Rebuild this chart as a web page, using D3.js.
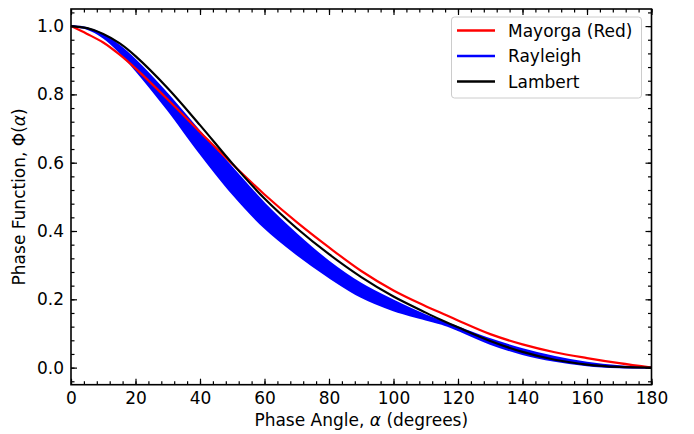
<!DOCTYPE html>
<html>
<head>
<meta charset="utf-8">
<script src="https://cdn.jsdelivr.net/npm/d3@7"></script>
<style>
  body { margin: 0; background: #fff; }
  text { font-family: "DejaVu Sans", sans-serif; }
</style>
</head>
<body>
<div id="chart"></div>
<script>
var angles = [0, 5, 10, 15, 20, 30, 40, 50, 60, 70, 80, 90, 100, 110, 115, 120, 130, 140, 150, 160, 170, 180];

// Mayorga (Red) curve
var mayorga = [1.0, 0.977, 0.952, 0.917, 0.876, 0.785, 0.69, 0.596, 0.507, 0.426, 0.352, 0.283, 0.226, 0.18, 0.159, 0.138, 0.098, 0.068, 0.045, 0.028, 0.013, 0.0];

// Lambert curve
var lambert = [1.0, 0.994, 0.977, 0.95, 0.912, 0.818, 0.71, 0.598, 0.495, 0.408, 0.332, 0.265, 0.208, 0.161, 0.139, 0.118, 0.078, 0.046, 0.023, 0.009, 0.002, 0.0];

// Rayleigh band, upper and lower envelope
var rayleighHigh = [1.0, 0.994, 0.975, 0.942, 0.9, 0.8, 0.69, 0.585, 0.48, 0.39, 0.31, 0.245, 0.196, 0.153, 0.135, 0.118, 0.083, 0.054, 0.031, 0.014, 0.004, 0.0];
var rayleighLow = [1.0, 0.992, 0.967, 0.925, 0.872, 0.755, 0.628, 0.51, 0.41, 0.332, 0.265, 0.207, 0.168, 0.141, 0.128, 0.11, 0.07, 0.04, 0.02, 0.007, 0.001, 0.0];

var legendNames = ["Mayorga (Red)", "Rayleigh", "Lambert"];
var legendColors = ["#ff0000", "#0000ff", "#000000"];

var xTicks = [0, 20, 40, 60, 80, 100, 120, 140, 160, 180];
var yTicks = [0.0, 0.2, 0.4, 0.6, 0.8, 1.0];

var svgWidth = 694;
var svgHeight = 434;

var margin = { top: 9, right: 42.5, bottom: 49.3, left: 71 };
var width = svgWidth - margin.left - margin.right;
var height = svgHeight - margin.top - margin.bottom;

var svg = d3.select("#chart")
  .append("svg")
  .attr("width", svgWidth)
  .attr("height", svgHeight);

var chartGroup = svg.append("g")
  .attr("transform", `translate(${margin.left}, ${margin.top})`);

var xScale = d3.scaleLinear().domain([0, 180]).range([0, width]);
var yScale = d3.scaleLinear().domain([-0.05, 1.05]).range([height, 0]);

var xMinor = d3.range(0, 181, 4);
var yMinor = d3.range(-0.04, 1.05, 0.04);

// Rayleigh band
var band = d3.area()
  .x((d, i) => xScale(angles[i]))
  .y0((d, i) => yScale(rayleighLow[i]))
  .y1((d, i) => yScale(rayleighHigh[i]))
  .curve(d3.curveCatmullRom);

chartGroup.append("path")
  .datum(angles)
  .attr("d", band)
  .attr("fill", "#0000ff")
  .attr("stroke", "#0000ff")
  .attr("stroke-width", 2);

function lineFor(values) {
  return d3.line()
    .x((d, i) => xScale(angles[i]))
    .y((d, i) => yScale(values[i]))
    .curve(d3.curveCatmullRom);
}

chartGroup.append("path")
  .datum(mayorga)
  .attr("d", lineFor(mayorga))
  .attr("fill", "none")
  .attr("stroke", "#ff0000")
  .attr("stroke-width", 2.2);

chartGroup.append("path")
  .datum(lambert)
  .attr("d", lineFor(lambert))
  .attr("fill", "none")
  .attr("stroke", "#000000")
  .attr("stroke-width", 2.2);

// axes: major + minor ticks, all pointing inward
function styleAxis(g) {
  g.select(".domain").remove();
  g.selectAll("line").attr("stroke", "#000").attr("stroke-width", 1.2);
  g.selectAll("text").attr("fill", "#000").style("font-size", "17px").style("font-family", "DejaVu Sans");
}

chartGroup.append("g")
  .attr("transform", `translate(0, ${height})`)
  .call(d3.axisBottom(xScale).tickValues(xTicks).tickSize(-6).tickPadding(7).tickFormat(d3.format("d")))
  .call(styleAxis);
chartGroup.append("g")
  .attr("transform", `translate(0, ${height})`)
  .call(d3.axisBottom(xScale).tickValues(xMinor).tickSize(-3.5).tickFormat(""))
  .call(styleAxis);
chartGroup.append("g")
  .call(d3.axisTop(xScale).tickValues(xTicks).tickSize(-6).tickFormat(""))
  .call(styleAxis);
chartGroup.append("g")
  .call(d3.axisTop(xScale).tickValues(xMinor).tickSize(-3.5).tickFormat(""))
  .call(styleAxis);

chartGroup.append("g")
  .call(d3.axisLeft(yScale).tickValues(yTicks).tickSize(-6).tickPadding(7).tickFormat(d3.format(".1f")))
  .call(styleAxis);
chartGroup.append("g")
  .call(d3.axisLeft(yScale).tickValues(yMinor).tickSize(-3.5).tickFormat(""))
  .call(styleAxis);
chartGroup.append("g")
  .attr("transform", `translate(${width}, 0)`)
  .call(d3.axisRight(yScale).tickValues(yTicks).tickSize(-6).tickFormat(""))
  .call(styleAxis);
chartGroup.append("g")
  .attr("transform", `translate(${width}, 0)`)
  .call(d3.axisRight(yScale).tickValues(yMinor).tickSize(-3.5).tickFormat(""))
  .call(styleAxis);

// frame
chartGroup.append("rect")
  .attr("width", width)
  .attr("height", height)
  .attr("fill", "none")
  .attr("stroke", "#000")
  .attr("stroke-width", 1.6);

// axis labels
chartGroup.append("text")
  .attr("x", width / 2)
  .attr("y", height + 41)
  .attr("text-anchor", "middle")
  .style("font-size", "17px")
  .html("Phase Angle, <tspan font-style='italic'>α</tspan> (degrees)");

chartGroup.append("text")
  .attr("transform", "rotate(-90)")
  .attr("x", -height / 2)
  .attr("y", -46)
  .attr("text-anchor", "middle")
  .style("font-size", "17px")
  .html("Phase Function, Φ(<tspan font-style='italic'>α</tspan>)");

// legend
var legend = chartGroup.append("g")
  .attr("transform", `translate(${451.5 - margin.left}, ${17 - margin.top})`);

legend.append("rect")
  .attr("width", 190)
  .attr("height", 81)
  .attr("rx", 3)
  .attr("fill", "#fff")
  .attr("fill-opacity", 0.8)
  .attr("stroke", "#cccccc")
  .attr("stroke-width", 1);

legendNames.forEach(function(name, i) {
  var yy = 13.5 + i * 25.5;
  legend.append("line")
    .attr("x1", 5.5).attr("x2", 43.5)
    .attr("y1", yy).attr("y2", yy)
    .attr("stroke", legendColors[i])
    .attr("stroke-width", 2.4);
  legend.append("text")
    .attr("x", 56.5)
    .attr("y", yy)
    .attr("dy", "0.36em")
    .style("font-size", "17px")
    .text(name);
});
</script>
</body>
</html>
